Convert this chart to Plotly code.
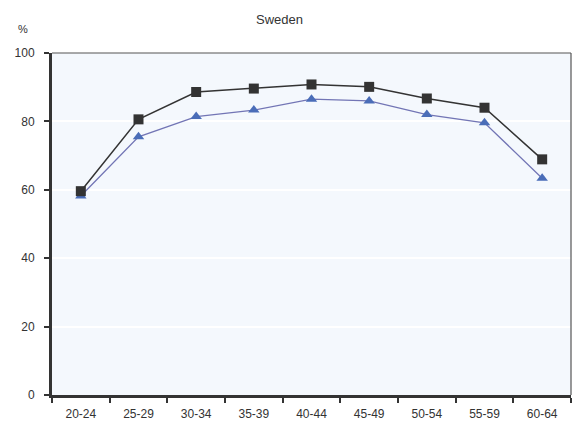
import plotly.graph_objects as go

age_groups = ["20-24", "25-29", "30-34", "35-39", "40-44", "45-49", "50-54", "55-59", "60-64"]
series_black = [59.6, 80.6, 88.6, 89.6, 90.8, 90.1, 86.7, 84.0, 68.9]
series_blue = [58.2, 75.5, 81.4, 83.3, 86.5, 86.0, 82.0, 79.6, 63.4]
y_ticks = [0, 20, 40, 60, 80, 100]

FONT = "Liberation Sans, Arial, sans-serif"

fig = go.Figure()
fig.add_trace(go.Scatter(
    x=age_groups, y=series_blue, mode="lines+markers",
    line=dict(color="#7275b5", width=1.3),
    marker=dict(symbol="triangle-up", size=10, color="#4a6db8"),
    showlegend=False, cliponaxis=False))
fig.add_trace(go.Scatter(
    x=age_groups, y=series_black, mode="lines+markers",
    line=dict(color="#333333", width=1.5),
    marker=dict(symbol="square", size=10, color="#333333"),
    showlegend=False, cliponaxis=False))

fig.update_layout(
    width=574, height=428,
    margin=dict(l=52, r=3, t=53, b=33),
    paper_bgcolor="white",
    plot_bgcolor="#f4f8fd",
    font=dict(family=FONT, size=12, color="#333333"),
    title=dict(text="Sweden", x=0.487, xanchor="center", y=0.955, yanchor="middle",
               font=dict(family=FONT, size=13, color="#333333")),
    xaxis=dict(type="category", range=[-0.5, 8.5], tickson="boundaries",
               ticks="outside", ticklen=5, tickwidth=2, tickcolor="#333333",
               ticklabelstandoff=6,
               showline=True, linewidth=3, linecolor="#333333",
               showgrid=False, zeroline=False, fixedrange=True,
               tickfont=dict(family=FONT, size=12, color="#333333")),
    yaxis=dict(range=[0, 100], tickvals=y_ticks, ticks="outside", ticklen=5,
               tickwidth=2, tickcolor="#333333", ticklabelstandoff=7,
               showline=True, linewidth=3, linecolor="#333333",
               showgrid=True, gridcolor="#ffffff", gridwidth=1.5,
               zeroline=False, fixedrange=True,
               tickfont=dict(family=FONT, size=12, color="#333333")),
    shapes=[
        dict(type="line", xref="paper", yref="paper", x0=0, x1=1, y0=1, y1=1,
             line=dict(color="#555555", width=1.2)),
        dict(type="line", xref="paper", yref="paper", x0=1, x1=1, y0=0, y1=1,
             line=dict(color="#555555", width=1.2)),
    ],
    annotations=[dict(text="%", xref="paper", yref="paper", x=-0.055, y=1.07,
                      showarrow=False, xanchor="center", yanchor="middle",
                      font=dict(family=FONT, size=11, color="#333333"))],
)

fig.write_html("out.html", config={"displayModeBar": False},
               post_script="document.body.style.margin='0';document.body.style.overflow='hidden';")
